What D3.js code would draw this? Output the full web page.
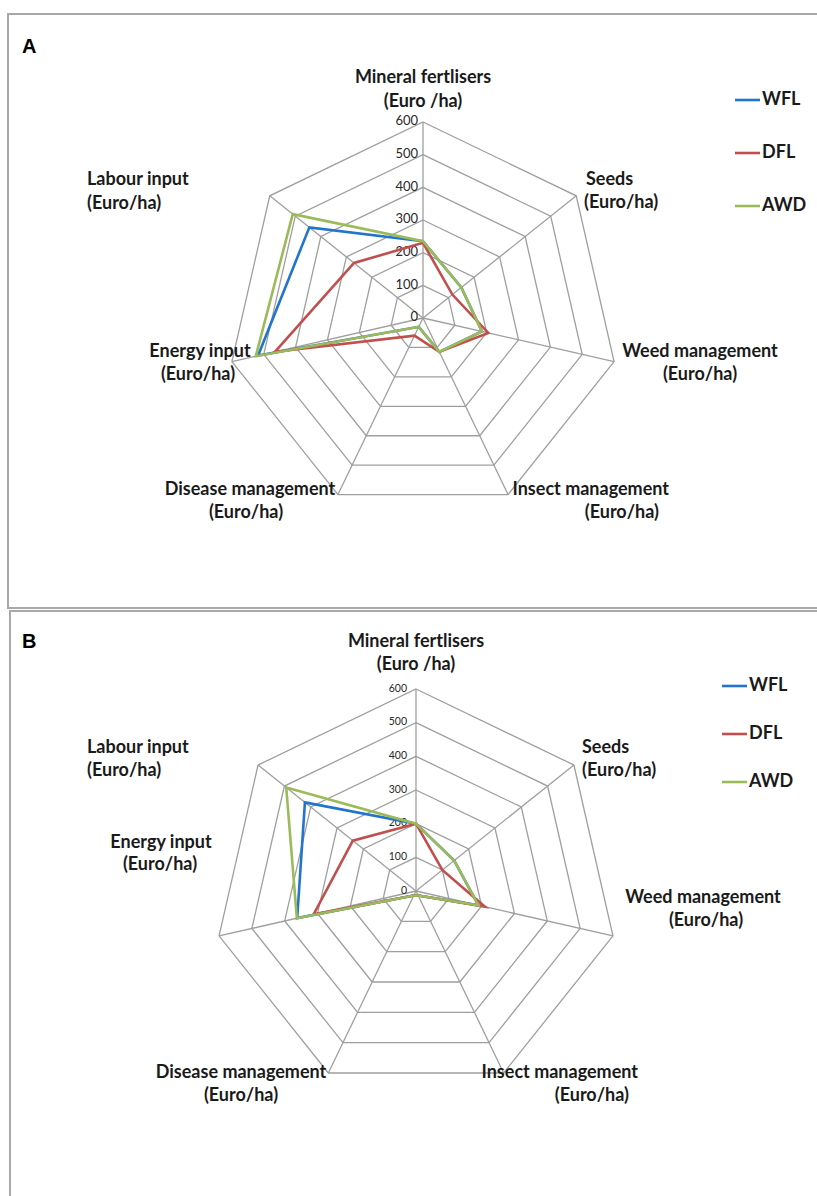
<!DOCTYPE html>
<html>
<head>
<meta charset="utf-8">
<title>Radar charts</title>
<script src="https://cdn.jsdelivr.net/npm/d3@7"></script>
<style>
  body { margin: 0; background: #fff; }
  .lbl { font-family: Lato, "Open Sans", sans-serif; font-weight: 700; fill: #1a1a1a; }
  .tick { font-family: Lato, "Open Sans", sans-serif; fill: #2a2a2a; }
  .grid { fill: none; stroke: #9f9f9f; stroke-width: 1.3; }
</style>
</head>
<body>
<svg id="chart" width="817" height="1196"></svg>
<script>
// axes, clockwise from top
const axes = ["Mineral fertlisers", "Seeds", "Weed management", "Insect management",
              "Disease management", "Energy input", "Labour input"];
const series = ["WFL", "DFL", "AWD"];
const ticks = [0, 100, 200, 300, 400, 500, 600];

// panel A values (Euro/ha)
const wflA = [235, 150, 185, 115, 30, 518, 445];
const dflA = [230, 115, 205, 115, 60, 465, 270];
const awdA = [235, 150, 185, 115, 30, 525, 510];

// panel B values (Euro/ha)
const wflB = [200, 145, 190, 15, 15, 362, 422];
const dflB = [200, 100, 210, 15, 15, 312, 240];
const awdB = [200, 145, 190, 15, 15, 363, 493];

const colors = ["#2274cc", "#c0504d", "#9bbb59"];

const svg = d3.select("#chart");

function drawPanel(cfg) {
  const g = svg.append("g");

  g.append("rect")
    .attr("x", cfg.box[0]).attr("y", cfg.box[1])
    .attr("width", cfg.box[2]).attr("height", cfg.box[3])
    .attr("fill", "#fff").attr("stroke", "#a8a8a8").attr("stroke-width", 2);

  g.append("text")
    .attr("x", cfg.letter[0]).attr("y", cfg.letter[1])
    .style("font-family", "Liberation Sans, Arial, sans-serif")
    .style("font-weight", "bold").style("font-size", "20px")
    .text(cfg.name);

  const r = d3.scaleLinear().domain([0, 600]).range([0, cfg.radius]);
  const ang = d3.scaleLinear().domain([0, axes.length]).range([0, 2 * Math.PI]);
  const pt = (i, v) => [cfg.cx + r(v) * Math.sin(ang(i)), cfg.cy - r(v) * Math.cos(ang(i))];
  const line = d3.line();

  // rings
  ticks.slice(1).forEach(t => {
    g.append("path").attr("class", "grid")
      .attr("d", line(axes.map((a, i) => pt(i, t))) + "Z");
  });
  // spokes
  axes.forEach((a, i) => {
    g.append("path").attr("class", "grid")
      .attr("d", line([pt(i, 0), pt(i, 600)]));
  });

  // tick labels on the top axis
  ticks.forEach(t => {
    g.append("text").attr("class", "tick")
      .attr("x", cfg.cx - cfg.tickGap).attr("y", pt(0, t)[1])
      .attr("text-anchor", "end").attr("dominant-baseline", "middle")
      .style("font-size", cfg.tickSize + "px")
      .text(t);
  });

  // series
  cfg.data.forEach((vals, s) => {
    g.append("path")
      .attr("d", line(vals.map((v, i) => pt(i, v))) + "Z")
      .attr("fill", "none").attr("stroke", colors[s])
      .attr("stroke-width", 2.6).attr("stroke-linejoin", "miter");
  });

  // axis labels
  axes.forEach((a, i) => {
    const p = cfg.labels[i];
    const unit = i === 0 ? "(Euro /ha)" : "(Euro/ha)";
    g.append("text").attr("class", "lbl")
      .attr("x", p[0]).attr("y", p[1]).attr("text-anchor", p[4])
      .attr("dominant-baseline", "middle").style("font-size", "18px").text(a);
    g.append("text").attr("class", "lbl")
      .attr("x", p[2]).attr("y", p[3]).attr("text-anchor", p[4])
      .attr("dominant-baseline", "middle").style("font-size", "18px").text(unit);
  });

  // legend
  series.forEach((s, k) => {
    const y = cfg.legend[1] + k * cfg.legend[2];
    g.append("line")
      .attr("x1", cfg.legend[0]).attr("x2", cfg.legend[0] + 25)
      .attr("y1", y).attr("y2", y)
      .attr("stroke", colors[k]).attr("stroke-width", 2.6);
    g.append("text").attr("class", "lbl")
      .attr("x", cfg.legend[0] + 27).attr("y", y)
      .attr("dominant-baseline", "middle").style("font-size", "18px").text(s);
  });
}

drawPanel({
  name: "A", box: [8, 14, 830, 594], letter: [22, 53],
  cx: 423, cy: 318, radius: 196, tickGap: 5, tickSize: 13,
  data: [wflA, dflA, awdA],
  labels: [
    [423, 78, 423, 102, "middle"],
    [586, 180, 584, 203, "start"],
    [700, 352, 700, 375, "middle"],
    [669, 490, 659, 513, "end"],
    [250, 490, 246, 513, "middle"],
    [200, 352, 198, 375, "middle"],
    [87, 180, 87, 204, "start"]
  ],
  legend: [735, 100, 53]
});

drawPanel({
  name: "B", box: [10, 611, 830, 600], letter: [22, 648],
  cx: 416, cy: 891, radius: 202, tickGap: 9, tickSize: 10.5,
  data: [wflB, dflB, awdB],
  labels: [
    [416, 642, 416, 665, "middle"],
    [582, 748, 582, 771, "start"],
    [703, 898, 706, 921, "middle"],
    [638, 1073, 629, 1096, "end"],
    [241, 1073, 241, 1096, "middle"],
    [161, 843, 160, 865, "middle"],
    [87, 748, 87, 771, "start"]
  ],
  legend: [722, 686, 48]
});
</script>
</body>
</html>
